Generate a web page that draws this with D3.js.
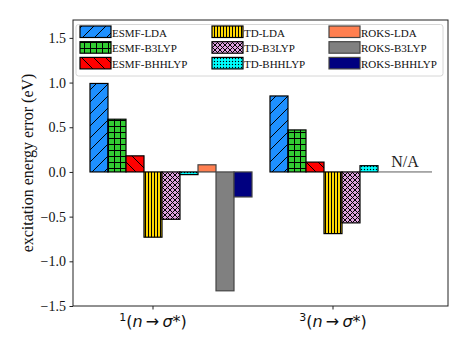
<!DOCTYPE html>
<html>
<head>
<meta charset="utf-8">
<script src="https://cdn.jsdelivr.net/npm/d3@7"></script>
<style>
  body { margin: 0; background: #fff; }
  svg { display: block; }
</style>
</head>
<body>
<script>
// data =====================================================
var methods = ["ESMF-LDA", "ESMF-B3LYP", "ESMF-BHHLYP",
               "TD-LDA", "TD-B3LYP", "TD-BHHLYP",
               "ROKS-LDA", "ROKS-B3LYP", "ROKS-BHHLYP"];
var groupSup = ["1", "3"];   // spin multiplicity in tick label
// null = N/A
var singletErr = [0.99, 0.59, 0.18, -0.73, -0.53, -0.03, 0.08, -1.33, -0.28];
var tripletErr = [0.85, 0.47, 0.11, -0.69, -0.57, 0.07, null, null, null];
var yTicks = [-1.5, -1.0, -0.5, 0.0, 0.5, 1.0, 1.5];

var fills = ["#1e90ff", "#32cd32", "#ff0000", "#ffd700", "#dda0dd", "#00ffff", "#ff7f50", "#808080", "#000080"];
var hatch = ["diag", "grid", "back", "vert", "cross", "dots", null, null, null];
// ==========================================================

var width = 469, height = 351;
var L = 73, R = 448, T = 20, B = 306;

var svg = d3.select("body").append("svg")
    .attr("width", width)
    .attr("height", height);

var defs = svg.append("defs");

function pat(id, size, draw) {
  var p = defs.append("pattern")
      .attr("id", id)
      .attr("patternUnits", "userSpaceOnUse")
      .attr("width", size).attr("height", size);
  draw(p, size);
}
function ln(p, x1, y1, x2, y2) {
  p.append("line").attr("x1", x1).attr("y1", y1).attr("x2", x2).attr("y2", y2)
    .attr("stroke", "#000").attr("stroke-width", 1);
}
pat("diag", 12, (p, s) => { ln(p, 0, s, s, 0); ln(p, -1, 1, 1, -1); ln(p, s - 1, s + 1, s + 1, s - 1); });
pat("back", 12, (p, s) => { ln(p, 0, 0, s, s); ln(p, -1, s - 1, 1, s + 1); ln(p, s - 1, -1, s + 1, 1); });
pat("grid", 6, (p, s) => { ln(p, 0.5, 0, 0.5, s); ln(p, 0, 0.5, s, 0.5); });
pat("vert", 3, (p, s) => { ln(p, 1.5, 0, 1.5, s); });
pat("cross", 5, (p, s) => { ln(p, 0, 0, s, s); ln(p, 0, s, s, 0); });
pat("dots", 3, (p, s) => {
  p.append("circle").attr("cx", 1.5).attr("cy", 1.5).attr("r", 0.7).attr("fill", "#000");
});

function edgeOf(i) { return i >= 6 ? "#444" : "#000"; }

// bar i of group g is centred on g*10 + i
var x = d3.scaleLinear()
    .domain([-26 / 18, 349 / 18])
    .range([L, R]);
var bw = x(1) - x(0);

var y = d3.scaleLinear()
    .domain([-1.5, 1.7])
    .range([B, T]);

var bars = [];
[singletErr, tripletErr].forEach((vals, g) => {
  vals.forEach((v, i) => bars.push({g: g, i: i, v: v}));
});

var barG = svg.append("g");
bars.forEach(d => {
  var x0 = x(d.g * 10 + d.i) - bw / 2;
  if (d.v === null) {
    // missing value: only the flat edge of an empty bar shows
    barG.append("line")
        .attr("x1", x0).attr("x2", x0 + bw)
        .attr("y1", y(0)).attr("y2", y(0))
        .attr("stroke", "#777").attr("stroke-width", 1.2);
    return;
  }
  var y0 = Math.min(y(0), y(d.v)), h = Math.abs(y(d.v) - y(0));
  barG.append("rect")
      .attr("x", x0).attr("y", y0).attr("width", bw).attr("height", h)
      .attr("fill", fills[d.i]);
  if (hatch[d.i])
    barG.append("rect")
        .attr("x", x0).attr("y", y0).attr("width", bw).attr("height", h)
        .attr("fill", "url(#" + hatch[d.i] + ")");
  barG.append("rect")
      .attr("x", x0).attr("y", y0).attr("width", bw).attr("height", h)
      .attr("fill", "none")
      .attr("stroke", edgeOf(d.i))
      .attr("stroke-width", 1.2);
});

// N/A label over the missing ROKS triplet bars
svg.append("text")
    .attr("x", x(10 + 7))
    .attr("y", y(0) - 4.5)
    .attr("text-anchor", "middle")
    .attr("font-family", "Liberation Serif")
    .attr("font-size", 16)
    .attr("fill", "#222")
    .text("N/A");

// axes
var yAxis = d3.axisLeft(y)
    .tickValues(yTicks)
    .tickFormat(d3.format(".1f"))
    .tickSize(3.5)
    .tickPadding(3.5);

var yg = svg.append("g")
    .attr("transform", "translate(" + L + ",0)")
    .call(yAxis);
yg.select(".domain").remove();
yg.selectAll("line").attr("stroke", "#222");
yg.selectAll("text")
    .attr("font-family", "Liberation Serif")
    .attr("font-size", 14)
    .attr("fill", "#111");

var xg = svg.append("g")
    .attr("transform", "translate(0," + B + ")");
groupSup.forEach((s, g) => {
  var cx = x(g * 10 + 3);
  xg.append("line").attr("x1", cx).attr("x2", cx).attr("y1", 0).attr("y2", 3.5)
    .attr("stroke", "#222");
  var t = xg.append("text")
      .attr("x", cx).attr("y", 21)
      .attr("text-anchor", "middle")
      .attr("font-family", "DejaVu Sans")
      .attr("font-size", 16)
      .attr("fill", "#111");
  t.append("tspan").attr("font-size", 11).attr("dy", -6).text(s);
  t.append("tspan").attr("dy", 6).text("(");
  t.append("tspan").attr("font-style", "italic").text("n");
  t.append("tspan").text("\u2009\u2192\u2009");
  t.append("tspan").attr("font-style", "italic").text("σ");
  t.append("tspan").text("*)");
});

// frame
svg.append("rect")
    .attr("x", L).attr("y", T).attr("width", R - L).attr("height", B - T)
    .attr("fill", "none")
    .attr("stroke", "#222")
    .attr("stroke-width", 1);

// y label
svg.append("text")
    .attr("transform", "translate(27," + ((T + B) / 2) + ") rotate(-90)")
    .attr("text-anchor", "middle")
    .attr("dy", "0.35em")
    .attr("font-family", "Liberation Serif")
    .attr("font-size", 16)
    .attr("fill", "#111")
    .text("excitation energy error (eV)");

// legend
var legX = [80, 212, 329], legY = [26, 41.7, 57.4];
svg.append("rect")
    .attr("x", 76).attr("y", 24.5).attr("width", 367).attr("height", 51.5)
    .attr("rx", 2.5)
    .attr("fill", "#fff").attr("fill-opacity", 0.8)
    .attr("stroke", "#d6d6d6");

methods.forEach((m, i) => {
  var col = Math.floor(i / 3), row = i % 3;
  var lx = legX[col], ly = legY[row];
  var g = svg.append("g");
  g.append("rect").attr("x", lx).attr("y", ly).attr("width", 31).attr("height", 11.5)
    .attr("fill", fills[i]);
  if (hatch[i])
    g.append("rect").attr("x", lx).attr("y", ly).attr("width", 31).attr("height", 11.5)
      .attr("fill", "url(#" + hatch[i] + ")");
  g.append("rect").attr("x", lx).attr("y", ly).attr("width", 31).attr("height", 11.5)
    .attr("fill", "none").attr("stroke", edgeOf(i)).attr("stroke-width", 1.2);
  g.append("text")
    .attr("x", lx + 32).attr("y", ly + 10.5)
    .attr("font-family", "Liberation Serif")
    .attr("font-size", 11)
    .attr("fill", "#111")
    .text(m);
});
</script>
</body>
</html>
